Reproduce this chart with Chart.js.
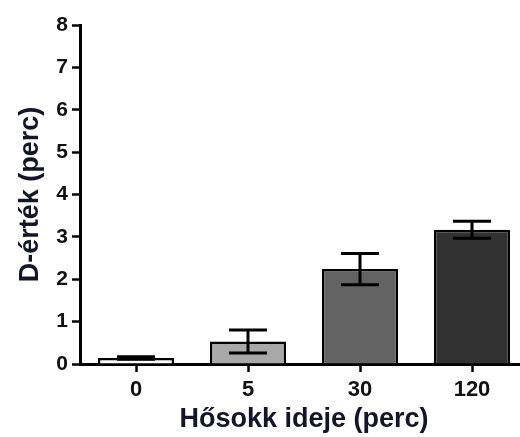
<!DOCTYPE html>
<html>
<head>
<meta charset="utf-8">
<script src="https://cdn.jsdelivr.net/npm/chart.js@4.4.1/dist/chart.umd.min.js"></script>
<style>
  html, body { margin: 0; padding: 0; background: #fff; overflow: hidden; }
  /* the plot runs a little past the right edge, so the frame clips it */
  #frame { width: 520px; height: 437px; overflow: hidden; }
</style>
</head>
<body>
<div id="frame">
  <canvas id="chart" width="528" height="437"></canvas>
</div>
<script>
// heat shock duration groups (minutes) and D-values with their error
const categories = ['0', '5', '30', '120'];
const dValues = [0.14, 0.53, 2.24, 3.17];
const dErrors = [0.03, 0.27, 0.37, 0.20];
const barColors = ['#ffffff', '#a9a9a9', '#636363', '#323232'];
const yTicks = [0, 1, 2, 3, 4, 5, 6, 7, 8];

const FONT = '"Liberation Sans", Arial, Helvetica, sans-serif';

// draws the mean ± error whiskers on top of each bar
const errorBars = {
  id: 'errorBars',
  afterDatasetsDraw(chart) {
    const { ctx, scales: { y } } = chart;
    const meta = chart.getDatasetMeta(0);
    ctx.save();
    ctx.strokeStyle = '#000';
    ctx.lineWidth = 3;
    ctx.lineCap = 'butt';
    meta.data.forEach((bar, i) => {
      const hi = y.getPixelForValue(dValues[i] + dErrors[i]);
      const lo = y.getPixelForValue(dValues[i] - dErrors[i]);
      const half = bar.width / 4;
      ctx.beginPath();
      ctx.moveTo(bar.x, hi);
      ctx.lineTo(bar.x, lo);
      ctx.moveTo(bar.x - half, hi);
      ctx.lineTo(bar.x + half, hi);
      ctx.moveTo(bar.x - half, lo);
      ctx.lineTo(bar.x + half, lo);
      ctx.stroke();
    });
    ctx.restore();
  }
};

new Chart(document.getElementById('chart'), {
  type: 'bar',
  data: {
    labels: categories,
    datasets: [{
      data: dValues,
      backgroundColor: barColors,
      borderColor: '#000',
      borderWidth: 2.5,
      categoryPercentage: 1,
      barPercentage: 0.68
    }]
  },
  options: {
    responsive: false,
    animation: false,
    layout: { padding: { top: 25, left: 0, right: 0, bottom: 0 } },
    plugins: {
      legend: { display: false },
      tooltip: { enabled: false }
    },
    scales: {
      x: {
        offset: true,
        grid: {
          offset: false,
          drawOnChartArea: false,
          drawTicks: true,
          tickLength: 8,
          tickWidth: 2.5,
          tickColor: '#000'
        },
        border: { display: true, color: '#000', width: 3 },
        ticks: {
          color: '#111',
          padding: 5,
          font: { family: FONT, size: 22, weight: 'bold' }
        },
        title: {
          display: true,
          text: 'Hősokk ideje (perc)',
          color: '#15152a',
          padding: { top: 0, bottom: 1 },
          font: { family: FONT, size: 27, weight: 'bold' }
        },
        afterFit(scale) { scale.height = 73; }
      },
      y: {
        min: 0,
        max: 8,
        afterBuildTicks(scale) {
          scale.ticks = yTicks.map(v => ({ value: v }));
        },
        grid: {
          drawOnChartArea: false,
          drawTicks: true,
          tickLength: 8,
          tickWidth: 2.5,
          tickColor: '#000'
        },
        border: { display: true, color: '#000', width: 3 },
        ticks: {
          color: '#111',
          padding: 4,
          font: { family: FONT, size: 21, weight: 'bold' }
        },
        title: {
          display: true,
          text: 'D-érték (perc)',
          color: '#15152a',
          padding: { top: 14, bottom: 0 },
          font: { family: FONT, size: 27, weight: 'bold' }
        },
        afterFit(scale) { scale.width = 80; }
      }
    }
  },
  plugins: [errorBars]
});
</script>
</body>
</html>
